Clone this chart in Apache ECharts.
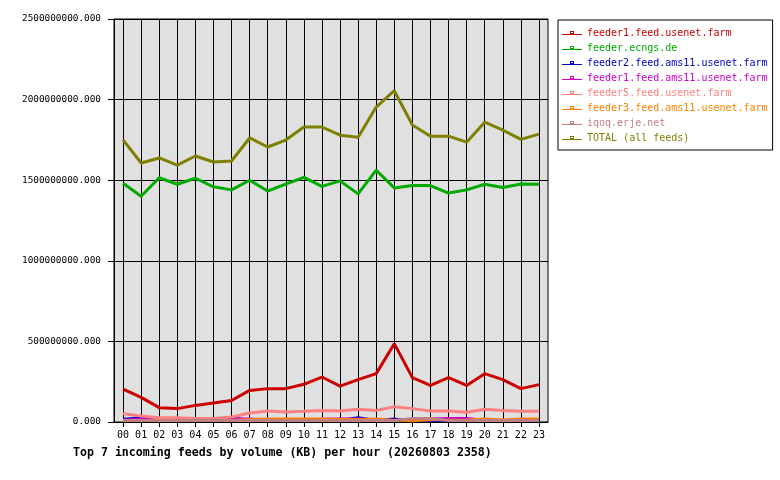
<!DOCTYPE html>
<html>
<head>
<meta charset="utf-8">
<script src="https://cdn.jsdelivr.net/npm/echarts@6/dist/echarts.min.js"></script>
<style>
  html, body { margin: 0; padding: 0; background: #fff; }
  #chart { width: 780px; height: 480px; }
</style>
</head>
<body>
<div id="chart"></div>
<script>
var hours = ["00", "01", "02", "03", "04", "05", "06", "07", "08", "09", "10", "11",
             "12", "13", "14", "15", "16", "17", "18", "19", "20", "21", "22", "23"];

// values in millions of KB
var feeder1Farm = [204, 153, 89, 83, 103, 118, 133, 196, 207, 207, 234, 279,
                   223, 263, 300, 486, 275, 227, 275, 227, 300, 263, 207, 232];
var ecngs = [1481, 1400, 1515, 1475, 1512, 1459, 1440, 1500, 1433, 1476, 1518, 1462,
             1496, 1415, 1562, 1452, 1467, 1467, 1420, 1440, 1475, 1455, 1476, 1475];
var feeder2Ams = [20, 28, 14, 10, 8, 8, 28, 14, 10, 10, 10, 10,
                  12, 30, 12, 21, 8, 8, 8, 8, 10, 8, 8, 8];
var feeder1Ams = [15, 20, 20, 14, 12, 12, 21, 21, 14, 14, 14, 20,
                  21, 21, 14, 14, 14, 21, 25, 25, 14, 12, 14, 14];
var feeder5Farm = [52, 37, 27, 27, 21, 21, 31, 56, 68, 62, 66, 72,
                   68, 79, 72, 95, 83, 68, 68, 60, 79, 72, 66, 66];
var feeder3Ams = [12, 12, 12, 12, 12, 12, 12, 18, 21, 21, 21, 21,
                  18, 18, 21, 12, 5, 12, 14, 16, 21, 16, 21, 21];
var iqoq = [10, 10, 10, 10, 10, 10, 10, 10, 10, 10, 10, 10,
            10, 10, 10, 10, 21, 21, 10, 10, 10, 10, 10, 10];
var total = [1750, 1607, 1638, 1594, 1650, 1613, 1619, 1762, 1706, 1749, 1830, 1830,
             1779, 1767, 1954, 2055, 1842, 1773, 1773, 1736, 1860, 1811, 1753, 1786];

var yTicks = [0, 500000000, 1000000000, 1500000000, 2000000000, 2500000000];

var feeds = [
    {name: "feeder1.feed.usenet.farm", data: feeder1Farm, color: "#cc0000", width: 3},
    {name: "feeder.ecngs.de", data: ecngs, color: "#00aa00", width: 3},
    {name: "feeder2.feed.ams11.usenet.farm", data: feeder2Ams, color: "#0000cc", width: 2},
    {name: "feeder1.feed.ams11.usenet.farm", data: feeder1Ams, color: "#cc00cc", width: 2},
    {name: "feeder5.feed.usenet.farm", data: feeder5Farm, color: "#ff8080", width: 3},
    {name: "feeder3.feed.ams11.usenet.farm", data: feeder3Ams, color: "#ff8000", width: 2},
    {name: "iqoq.erje.net", data: iqoq, color: "#c08080", width: 3},
    {name: "TOTAL (all feeds)", data: total, color: "#808000", width: 3}
];

var mono = "'DejaVu Sans Mono', monospace";
// line with a small hollow box on it
var legendIcon = "path://M0,4H20V5H0Z M8,1H12V4H8Z M9,2V3H11V2Z";

var chart = echarts.init(document.getElementById("chart"));

var series = feeds.map(function (f) {
    return {
        name: f.name,
        type: "line",
        symbol: "none",
        data: f.data.map(function (v) { return v * 1000000; }),
        itemStyle: {color: f.color},
        lineStyle: {color: f.color, width: f.width},
        emphasis: {disabled: true}
    };
});

var option = {
    animation: false,
    backgroundColor: "#ffffff",
    title: {
        text: "Top 7 incoming feeds by volume (KB) per hour (20260803 2358)",
        left: 73,
        top: 447,
        padding: 0,
        textStyle: {fontFamily: mono, fontSize: 11.6, fontWeight: "bold", color: "#000"}
    },
    legend: {
        orient: "vertical",
        left: 558,
        top: 20,
        padding: [7, 5, 6, 4],
        itemGap: 3,
        itemWidth: 20,
        itemHeight: 6,
        icon: legendIcon,
        borderColor: "#000",
        borderWidth: 1,
        selectedMode: false,
        data: feeds.map(function (f) {
            return {name: f.name, textStyle: {color: f.color}};
        }),
        textStyle: {fontFamily: mono, fontSize: 10, lineHeight: 12}
    },
    grid: {
        left: 114,
        right: 232,
        top: 19,
        bottom: 58,
        show: true,
        backgroundColor: "#e0e0e0",
        borderColor: "#000",
        borderWidth: 1
    },
    xAxis: {
        type: "category",
        data: hours,
        boundaryGap: true,
        axisLine: {lineStyle: {color: "#000", width: 1}},
        axisTick: {show: true, alignWithLabel: true, length: 5, lineStyle: {color: "#000"}},
        splitLine: {show: true, alignWithLabel: true, lineStyle: {color: "#000", width: 1}},
        axisLabel: {
            interval: 0,
            margin: 8,
            color: "#000",
            fontFamily: mono,
            fontSize: 10
        }
    },
    yAxis: {
        type: "value",
        min: yTicks[0],
        max: yTicks[yTicks.length - 1],
        interval: yTicks[1] - yTicks[0],
        axisLine: {show: true, lineStyle: {color: "#000", width: 1}},
        axisTick: {show: true, length: 6, lineStyle: {color: "#000"}},
        splitLine: {show: true, lineStyle: {color: "#000", width: 1}},
        axisLabel: {
            margin: 13,
            color: "#000",
            fontFamily: mono,
            fontSize: 9.4,
            formatter: function (v) { return v.toFixed(3); }
        }
    },
    series: series
};

chart.setOption(option);
</script>
</body>
</html>
